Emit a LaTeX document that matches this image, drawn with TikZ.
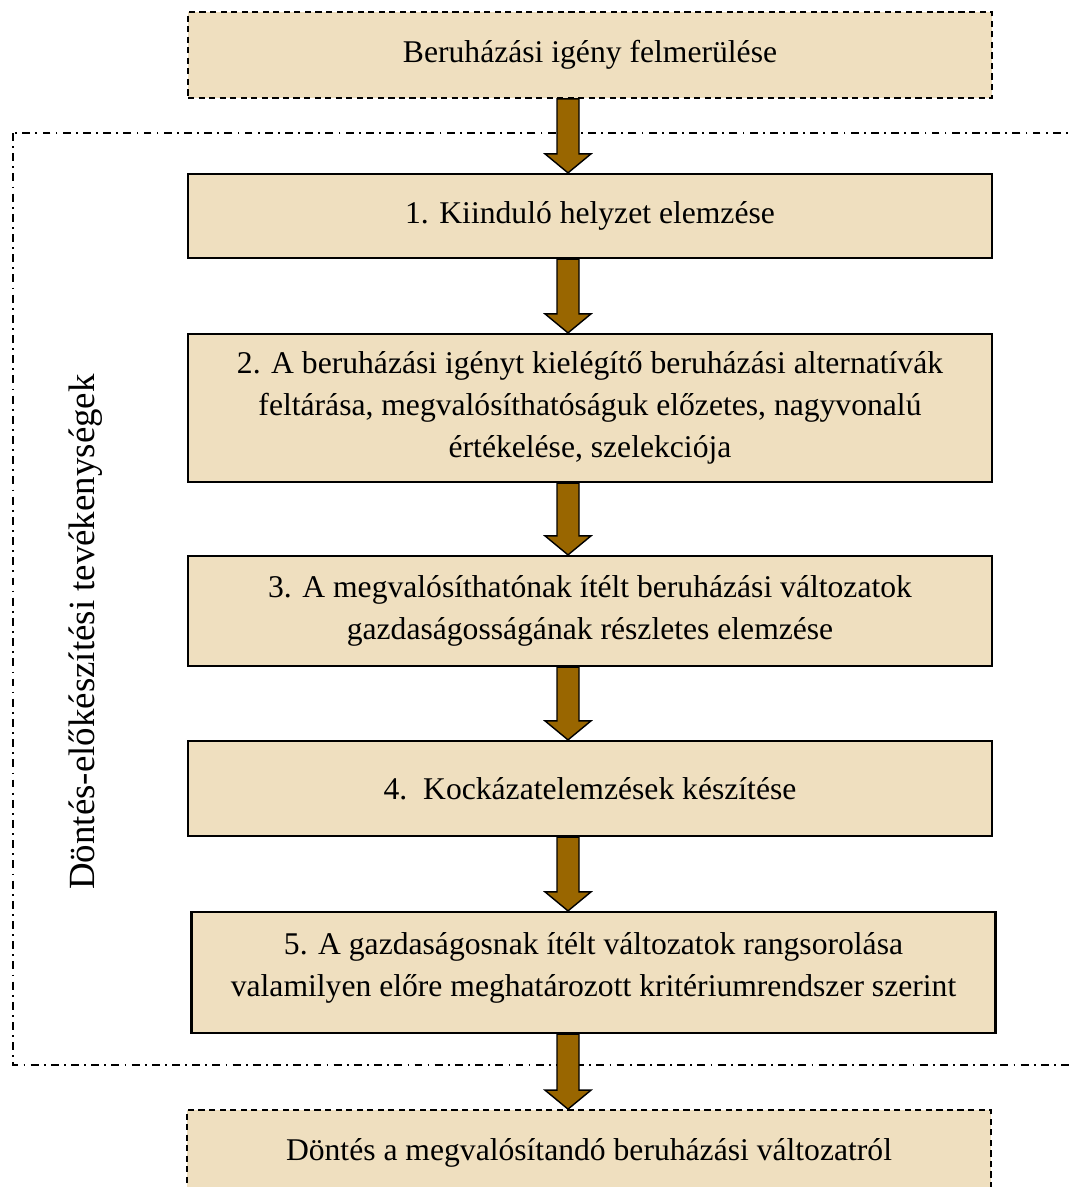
\documentclass[tikz,border=0pt]{standalone}
\usepackage{fontspec}
\setmainfont{Liberation Serif}
\usepackage{xcolor}
\usetikzlibrary{calc}
\definecolor{parchment}{RGB}{239,223,191}
\definecolor{arrowbrown}{RGB}{153,102,0}
\tikzset{stepbox/.style={draw=black, line width=1.3pt, fill=parchment, minimum width=16.08cm,
   align=center, inner sep=0pt, font=\fontsize{18}{24}\selectfont},
 endbox/.style={stepbox, line width=1pt, dash pattern=on 3.5pt off 2.5pt},
 frameline/.style={line width=1.05pt, dash pattern=on 4.5pt off 3pt on 1pt off 3pt},
 blockarrow/.style={draw=black, line width=0.8pt, fill=arrowbrown, line join=miter},
 }

\begin{document}
\begin{tikzpicture}[x=0.02cm, y=-0.02cm]
    \useasboundingbox (0,0) rectangle (1070,1187);
    \clip (0,0) rectangle (1070,1187);
    % dash-dot frame of the preparation phase
    \draw[frameline] (13,133) rectangle (1100,1065);
    \node[rotate=90, font=\fontsize{21}{25}\selectfont] (phase) at (86,632) {Döntés-előkészítési tevékenységek};

    \node[endbox, minimum height=1.72cm] (need) at (590,55) {Beruházási igény felmerülése};
    \node[stepbox, minimum height=1.68cm] (s1) at (590,216) {1. Kiinduló helyzet elemzése};
    \node[stepbox, minimum height=2.96cm] (s2) at (590,408) {2. A beruházási igényt kielégítő beruházási alternatívák\\ feltárása, megvalósíthatóságuk előzetes, nagyvonalú\\ értékelése, szelekciója};
    \node[stepbox, minimum height=2.2cm] (s3) at (590,611) {3. A megvalósíthatónak ítélt beruházási változatok\\ gazdaságosságának részletes elemzése};
    \node[stepbox, minimum height=1.9cm] (s4) at (590,788.5) {4.\ \ Kockázatelemzések készítése};
    \node[stepbox, minimum height=2.42cm] (s5) at (593.5,972.5) {5. A gazdaságosnak ítélt változatok rangsorolása\\ valamilyen előre meghatározott kritériumrendszer szerint\\[-15pt]\mbox{}};
    \node[endbox, minimum height=1.72cm] (decision) at (589,1153) {Döntés a megvalósítandó beruházási változatról};

    \coordinate (axis) at (568,0);
    \foreach \a/\b in {need/s1, s1/s2, s2/s3, s3/s4, s4/s5, s5/decision} {
        \path (\a.south -| axis) coordinate (tail) (\b.north -| axis) coordinate (tip);
        \draw[blockarrow] ($(tail)+(-11,0)$) -- ($(tip)+(-11,-19)$) -- ($(tip)+(-23,-19)$) -- (tip)
            -- ($(tip)+(23,-19)$) -- ($(tip)+(11,-19)$) -- ($(tail)+(11,0)$) -- cycle;
    }
\end{tikzpicture}
\end{document}
